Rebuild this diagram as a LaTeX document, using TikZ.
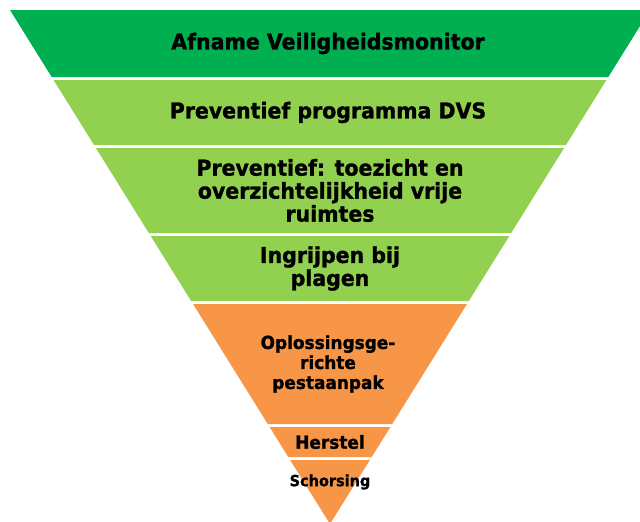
\documentclass[tikz,border=0pt]{standalone}
\usepackage{fontspec}
\setmainfont{DejaVu Sans}[BoldFeatures={FakeStretch=0.94, FakeBold=1.2}]
\definecolor{topgreen}{HTML}{00B050}
\definecolor{lightgreen}{HTML}{92D050}
\definecolor{pestorange}{HTML}{F79646}

\begin{document}
\begin{tikzpicture}[x=1pt, y=-1pt,
    layer/.style={inner sep=0pt, align=center, font=\bfseries\fontsize{21.8}{23}\selectfont},
    midlayer/.style={layer, font=\bfseries\fontsize{18}{20}\selectfont},
    smalllayer/.style={layer, font=\bfseries\fontsize{15.4}{17}\selectfont}]

    \useasboundingbox (0,0) rectangle (640,522);

    % bands of the inverted triangle: top / bottom / colour
    \foreach \yt/\yb/\col in {10/77/topgreen, 80/145/lightgreen, 148/233/lightgreen,
        236/301/lightgreen, 304/424/pestorange, 427/457/pestorange, 460/524/pestorange}
      \fill[\col] ({330-0.6226*(524-\yt)},\yt) -- ({330+0.6226*(524-\yt)},\yt)
          -- ({330+0.6226*(524-\yb)},\yb) -- ({330-0.6226*(524-\yb)},\yb) -- cycle;

    \node (monitor) [layer] at (328,43.5) {Afname Veiligheidsmonitor};
    \node (dvs) [layer] at (328,112.5) {Preventief programma DVS};
    \node (toezicht) [layer] at (330,190.5) {Preventief: toezicht en\\overzichtelijkheid vrije\\ruimtes};
    \node (plagen) [layer] at (330,268.5) {Ingrijpen bij\\plagen};
    \node (pestaanpak) [midlayer] at (328,364) {Oplossingsge-\\richte\\pestaanpak};
    \node (herstel) [midlayer] at (330,442) {Herstel};
    \node (schorsing) [smalllayer] at (330,482) {Schorsing};

\end{tikzpicture}
\end{document}
